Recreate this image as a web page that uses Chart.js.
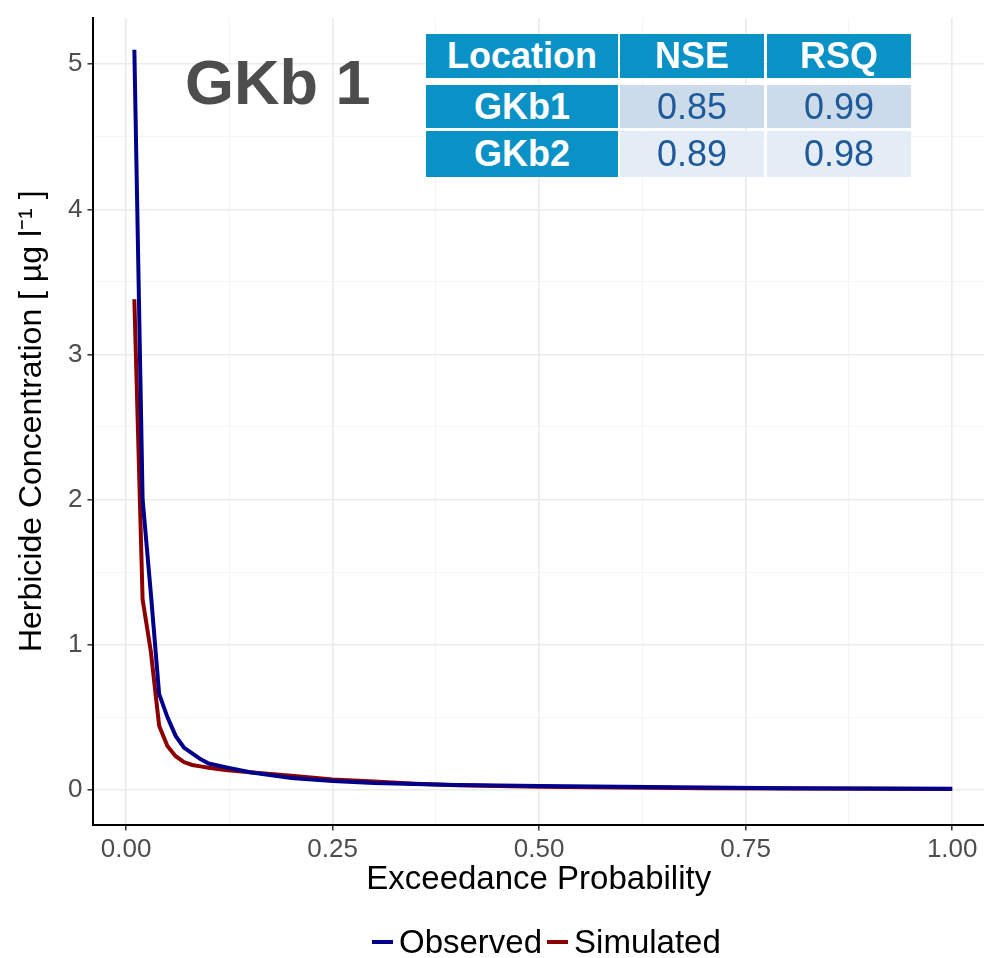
<!DOCTYPE html>
<html>
<head>
<meta charset="utf-8">
<script src="https://cdn.jsdelivr.net/npm/chart.js"></script>
<style>
  body { margin: 0; padding: 0; background: #fff; font-family: "Liberation Sans", Arial, sans-serif; }
  #wrap { position: relative; width: 984px; height: 958px; overflow: hidden; }
  #chart { position: absolute; left: 0; top: 0; }
  #title { position: absolute; left: 185px; top: 51px; font-size: 63px; line-height: 63px; font-weight: bold; color: #4d4d4d; white-space: nowrap; }
  .cell { position: absolute; display: flex; align-items: center; justify-content: center; font-size: 36px; }
  .head { background: #0a91c6; color: #fff; font-weight: bold; }
  .val { color: #1e5a99; }
  #legend { position: absolute; left: 372px; top: 922px; display: flex; align-items: center; font-size: 33px; line-height: 40px; color: #000; }
  .key { width: 21px; height: 4px; margin-right: 6px; }
  .lab { margin-right: 5px; }
</style>
</head>
<body>
<div id="wrap">
  <canvas id="chart" width="984" height="958"></canvas>
  <div id="title">GKb 1</div>
  <div id="table"></div>
  <div id="legend"></div>
</div>
<script>
// exceedance probability and concentrations (ug/l)
const exceedance = [0.01, 0.02, 0.03, 0.04, 0.05, 0.06, 0.07, 0.08, 0.09, 0.10, 0.12, 0.15, 0.20, 0.25, 0.30, 0.35, 0.40, 0.50, 0.60, 0.70, 0.80, 0.90, 1.00];
const observed  = [5.10, 2.00, 1.35, 0.66, 0.50, 0.37, 0.29, 0.25, 0.21, 0.18, 0.155, 0.12, 0.08, 0.06, 0.045, 0.038, 0.032, 0.025, 0.02, 0.015, 0.01, 0.008, 0.005];
const simulated = [3.38, 1.31, 0.95, 0.44, 0.30, 0.23, 0.19, 0.17, 0.16, 0.15, 0.135, 0.12, 0.095, 0.07, 0.055, 0.04, 0.03, 0.02, 0.015, 0.01, 0.008, 0.005, 0.004];

const seriesNames = ['Observed', 'Simulated'];
const seriesColors = ['#00008b', '#8b0000'];

const xTicks = [0, 0.125, 0.25, 0.375, 0.5, 0.625, 0.75, 0.875, 1];
const xLabels = [0, 0.25, 0.5, 0.75, 1];
const yTicks = [0, 0.5, 1, 1.5, 2, 2.5, 3, 3.5, 4, 4.5, 5];
const yLabels = [0, 1, 2, 3, 4, 5];

const tableHeader = ['Location', 'NSE', 'RSQ'];
const tableRows = [['GKb1', '0.85', '0.99'], ['GKb2', '0.89', '0.98']];

// table overlay
const colLeft = [426, 620, 767], colWidth = [192, 144, 144];
const rowTop = [34, 85, 131], rowHeight = [44, 43, 46];
const rowBg = ['#cbdbe9', '#e4ecf6'];
const table = document.getElementById('table');
function addCell(text, r, c, cls, bg) {
    const d = document.createElement('div');
    d.className = 'cell ' + cls;
    d.style.left = colLeft[c] + 'px';
    d.style.top = rowTop[r] + 'px';
    d.style.width = colWidth[c] + 'px';
    d.style.height = rowHeight[r] + 'px';
    if (bg) d.style.background = bg;
    d.textContent = text;
    table.appendChild(d);
}
tableHeader.forEach((t, c) => addCell(t, 0, c, 'head'));
tableRows.forEach((row, i) => {
    row.forEach((t, c) => addCell(t, i + 1, c, c === 0 ? 'head' : 'val', c === 0 ? null : rowBg[i]));
});

// legend
const legend = document.getElementById('legend');
seriesNames.forEach((name, i) => {
    legend.insertAdjacentHTML('beforeend',
        `<div class="key" style="background:${seriesColors[i]}"></div><div class="lab">${name}</div>`);
});

const toPoints = ys => exceedance.map((x, i) => ({ x: x, y: ys[i] }));
const isMajorX = v => xLabels.some(m => Math.abs(m - v) < 1e-9);
const isMajorY = v => yLabels.some(m => Math.abs(m - v) < 1e-9);

const font = "'Liberation Sans', Arial, sans-serif";

new Chart(document.getElementById('chart'), {
    type: 'line',
    data: {
        datasets: [
            { label: seriesNames[0], data: toPoints(observed), borderColor: seriesColors[0], borderWidth: 4, pointRadius: 0, tension: 0, fill: false },
            { label: seriesNames[1], data: toPoints(simulated), borderColor: seriesColors[1], borderWidth: 4, pointRadius: 0, tension: 0, fill: false }
        ]
    },
    options: {
        responsive: false,
        animation: false,
        layout: { padding: { top: 0, right: 0, bottom: 67, left: 0 } },
        plugins: { legend: { display: false }, tooltip: { enabled: false } },
        scales: {
            x: {
                type: 'linear',
                min: -0.0395,
                max: 1.0385,
                afterBuildTicks: s => { s.ticks = xTicks.map(v => ({ value: v })); },
                ticks: {
                    autoSkip: false,
                    maxRotation: 0,
                    padding: 6,
                    color: '#4d4d4d',
                    font: { family: font, size: 26, lineHeight: 1 },
                    callback: v => isMajorX(v) ? v.toFixed(2) : ''
                },
                grid: {
                    color: ctx => ctx.tick && isMajorX(ctx.tick.value) ? '#ebebeb' : '#f4f4f4',
                    lineWidth: ctx => ctx.tick && isMajorX(ctx.tick.value) ? 1.6 : 0.9,
                    tickColor: ctx => ctx.tick && isMajorX(ctx.tick.value) ? '#333333' : 'rgba(0,0,0,0)',
                    tickLength: 6,
                    tickWidth: 1.5
                },
                border: { display: true, color: '#000', width: 2 },
                title: {
                    display: true,
                    text: 'Exceedance Probability',
                    color: '#000',
                    padding: { top: 0, bottom: 0 },
                    font: { family: font, size: 33, lineHeight: 0.68 }
                }
            },
            y: {
                type: 'linear',
                min: -0.241,
                max: 5.319,
                afterBuildTicks: s => { s.ticks = yTicks.map(v => ({ value: v })); },
                ticks: {
                    autoSkip: false,
                    padding: 5,
                    color: '#4d4d4d',
                    font: { family: font, size: 26, lineHeight: 1 },
                    callback: v => isMajorY(v) ? String(v) : ''
                },
                grid: {
                    color: ctx => ctx.tick && isMajorY(ctx.tick.value) ? '#ebebeb' : '#f4f4f4',
                    lineWidth: ctx => ctx.tick && isMajorY(ctx.tick.value) ? 1.6 : 0.9,
                    tickColor: ctx => ctx.tick && isMajorY(ctx.tick.value) ? '#333333' : 'rgba(0,0,0,0)',
                    tickLength: 6,
                    tickWidth: 1.5
                },
                border: { display: true, color: '#000', width: 2 },
                title: {
                    display: true,
                    text: 'Herbicide Concentration [ \u00B5g l\u207B\u00B9 ]',
                    color: '#000',
                    padding: { top: 16, bottom: 15 },
                    font: { family: font, size: 32, lineHeight: 1 }
                }
            }
        }
    }
});
</script>
</body>
</html>
